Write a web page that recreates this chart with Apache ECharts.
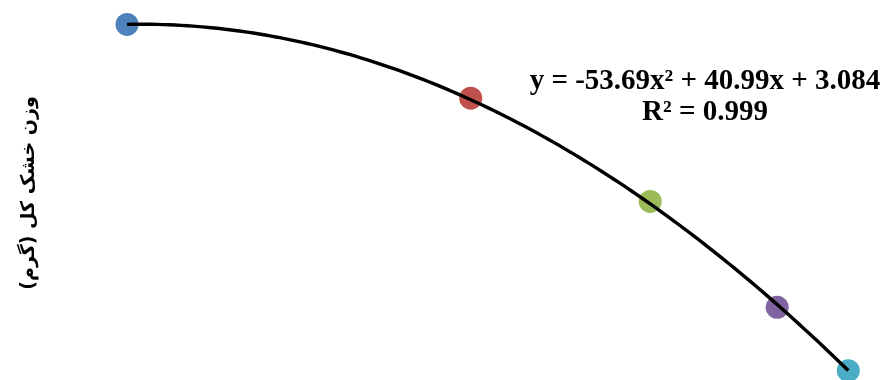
<!DOCTYPE html>
<html lang="fa">
<head>
    <meta charset="UTF-8">
    <title>وزن خشک کل</title>
    <style>
        html, body { margin: 0; padding: 0; background: #fff; }
        #chart { width: 885px; height: 380px; }
    </style>
</head>
<body>
<div id="chart"></div>
<script src="https://cdn.jsdelivr.net/npm/echarts@6.0.0/dist/echarts.min.js"></script>
<script type="text/javascript">
    // داده ها (از روی تصویر خوانده شده)
    var xValues = [0.374, 0.577, 0.683, 0.758, 0.80];
    var yValues = [10.90, 8.90, 6.10, 3.23, 1.51];
    var pointColors = ['#4F81BD', '#C0504D', '#9BBB59', '#8064A2', '#4BACC6'];
    var trendCoef = [-53.69, 40.99, 3.084];   // a*x^2 + b*x + c
    var equationText = 'y = -53.69x² + 40.99x + 3.084';
    var r2Text = 'R² = 0.999';
    var yAxisTitle = 'وزن خشک کل (گرم)';

    window.onload = function () {
        var myChart = echarts.init(document.getElementById('chart'));

        var points = [];
        for (var i = 0; i < xValues.length; i++) {
            points.push({
                value: [xValues[i], yValues[i]],
                itemStyle: { color: pointColors[i], opacity: 1 }
            });
        }

        // خط روند از روی معادله نمایش داده شده
        var trend = [];
        var x0 = xValues[0], x1 = xValues[xValues.length - 1];
        for (var j = 0; j <= 120; j++) {
            var x = x0 + (x1 - x0) * j / 120;
            trend.push([x, trendCoef[0] * x * x + trendCoef[1] * x + trendCoef[2]]);
        }

        var option = {
            animation: false,
            grid: { left: 86.4, right: 36.7, top: 20.8, bottom: 8.9 },
            xAxis: { type: 'value', min: 0.35, max: 0.8, show: false },
            yAxis: { type: 'value', min: 1.5, max: 11, show: false },
            graphic: [
                {
                    type: 'text', x: 705, y: 82,
                    style: {
                        text: equationText, fill: '#000',
                        font: 'bold 29px "Liberation Serif"',
                        textAlign: 'center', textVerticalAlign: 'middle'
                    }
                },
                {
                    type: 'text', x: 705, y: 113,
                    style: {
                        text: r2Text, fill: '#000',
                        font: 'bold 29px "Liberation Serif"',
                        textAlign: 'center', textVerticalAlign: 'middle'
                    }
                },
                {
                    type: 'text', x: 29, y: 193, rotation: Math.PI / 2,
                    style: {
                        text: yAxisTitle, fill: '#000',
                        font: 'bold 19px "DejaVu Sans"',
                        textAlign: 'center', textVerticalAlign: 'middle'
                    }
                }
            ],
            series: [
                {
                    type: 'scatter',
                    data: points,
                    symbolSize: 23,
                    clip: false,
                    z: 2
                },
                {
                    type: 'line',
                    data: trend,
                    showSymbol: false,
                    lineStyle: { color: '#000', width: 3.4 },
                    clip: false,
                    z: 3
                }
            ]
        };
        myChart.setOption(option);
    };
</script>
</body>
</html>
